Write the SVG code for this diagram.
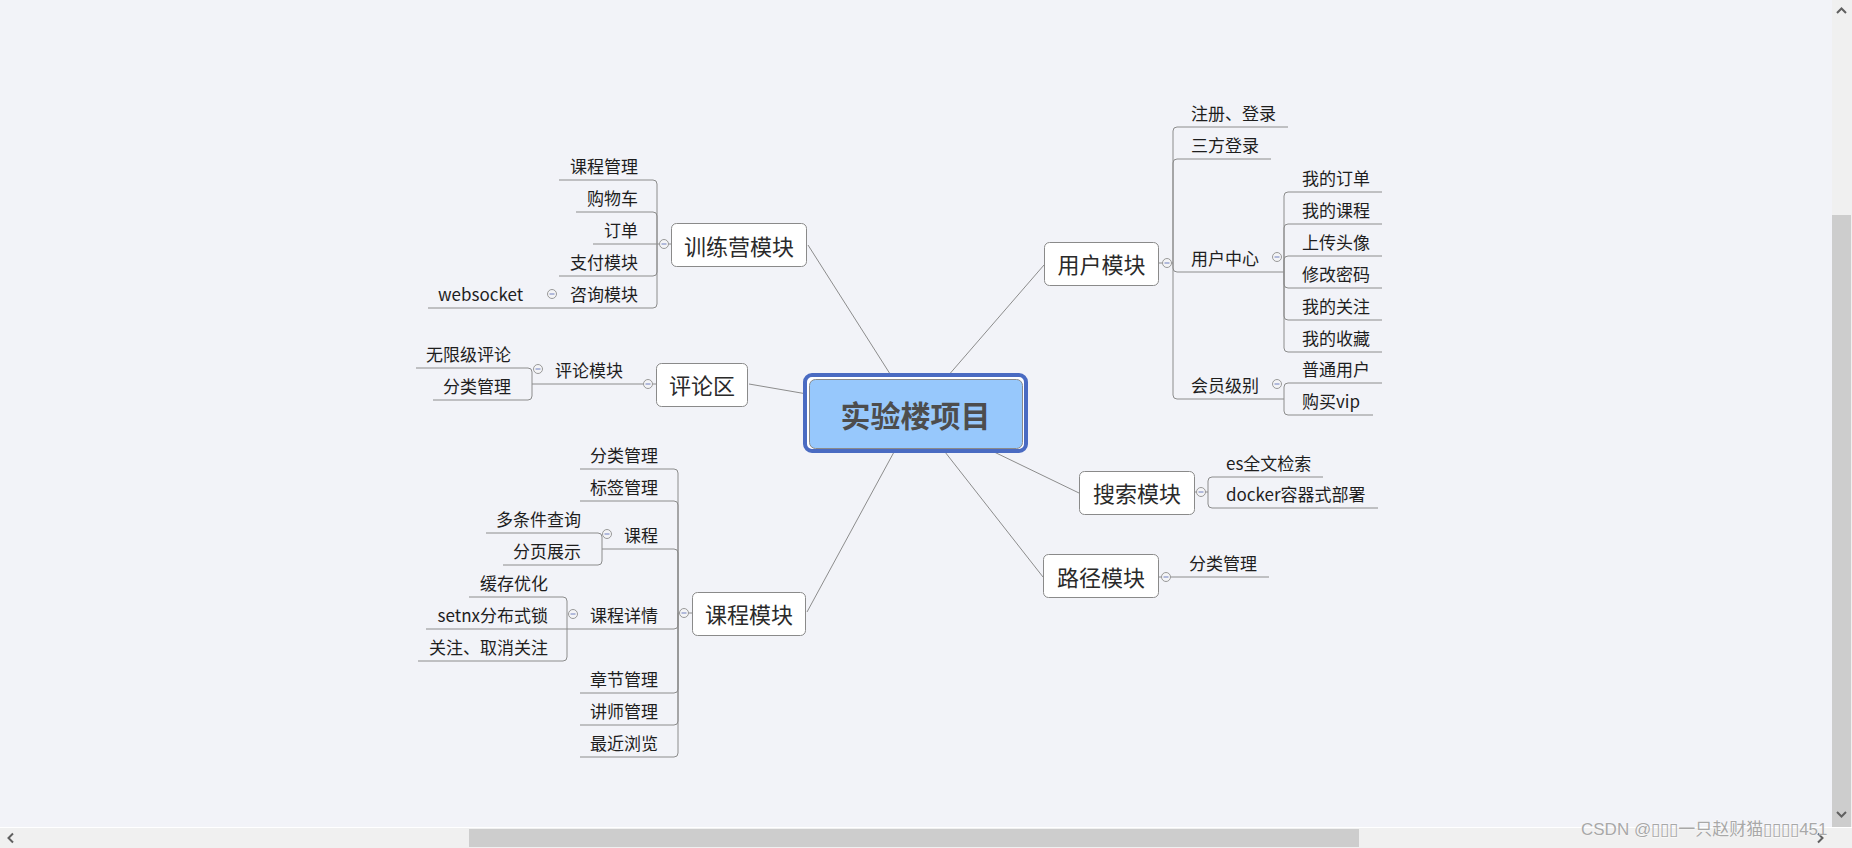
<svg xmlns="http://www.w3.org/2000/svg" width="1852" height="848" viewBox="0 0 1852 848">
<style>
.bg{fill:#f2f3f8}
.c{fill:none;stroke:#8c8c8c;stroke-width:1}
.n{fill:#fff;stroke:#8a8a8a;stroke-width:1}
.t{font-family:"Noto Sans CJK SC","Noto Sans",sans-serif;font-size:17px;fill:#1e1e1e}
.e{text-anchor:end}
.m{font-family:"Noto Sans CJK SC","Noto Sans",sans-serif;font-size:22px;fill:#2a2a2a;text-anchor:middle}
.k circle{fill:#f4f4f6;stroke:#999;stroke-width:1}
.k path{stroke:#7080c0;stroke-width:1;fill:none}
.sb{fill:#f0f0f0}
.th{fill:#cdcdcd}
.ar{fill:none;stroke:#606060;stroke-width:2}
</style>
<rect class="bg" x="0" y="0" width="1852" height="848"/>

<g id="connectors">
  <path class="c" d="M808,245 L892,377"/>
  <path class="c" d="M749,384 L807,394"/>
  <path class="c" d="M807,612 L894,452"/>
  <path class="c" d="M947,377 L1044,265"/>
  <path class="c" d="M990,450 L1079,493"/>
  <path class="c" d="M945,452 L1043,577"/>

  <!-- 训练营模块 -->
  <path class="c" d="M671,244 H657"/>
  <path class="c" d="M657,244 V184 Q657,180 653,180 H559"/>
  <path class="c" d="M657,244 V216 Q657,212 653,212 H576"/>
  <path class="c" d="M657,244 H593"/>
  <path class="c" d="M657,244 V272 Q657,276 653,276 H559"/>
  <path class="c" d="M657,244 V304 Q657,308 653,308 H428"/>

  <!-- 评论区 -->
  <path class="c" d="M656,384 H532"/>
  <path class="c" d="M532,384 V372 Q532,368 528,368 H416"/>
  <path class="c" d="M532,384 V396 Q532,400 528,400 H433"/>

  <!-- 课程模块 -->
  <path class="c" d="M692,613 H678"/>
  <path class="c" d="M678,613 V473 Q678,469 674,469 H580"/>
  <path class="c" d="M678,613 V505 Q678,501 674,501 H580"/>
  <path class="c" d="M678,613 V553 Q678,549 674,549 H602"/>
  <path class="c" d="M602,549 V537 Q602,533 598,533 H486"/>
  <path class="c" d="M602,549 V561 Q602,565 598,565 H503"/>
  <path class="c" d="M678,613 V625 Q678,629 674,629 H567"/>
  <path class="c" d="M567,629 V601 Q567,597 563,597 H469"/>
  <path class="c" d="M567,629 H426"/>
  <path class="c" d="M567,629 V657 Q567,661 563,661 H418"/>
  <path class="c" d="M678,613 V689 Q678,693 674,693 H580"/>
  <path class="c" d="M678,613 V721 Q678,725 674,725 H580"/>
  <path class="c" d="M678,613 V753 Q678,757 674,757 H580"/>

  <!-- 用户模块 -->
  <path class="c" d="M1159,263 H1173"/>
  <path class="c" d="M1173,263 V131 Q1173,127 1177,127 H1288"/>
  <path class="c" d="M1173,263 V163 Q1173,159 1177,159 H1271"/>
  <path class="c" d="M1173,263 V268 Q1173,272 1177,272 H1284"/>
  <path class="c" d="M1284,272 V196 Q1284,192 1288,192 H1382"/>
  <path class="c" d="M1284,272 V228 Q1284,224 1288,224 H1382"/>
  <path class="c" d="M1284,272 V260 Q1284,256 1288,256 H1382"/>
  <path class="c" d="M1284,272 V284 Q1284,288 1288,288 H1382"/>
  <path class="c" d="M1284,272 V316 Q1284,320 1288,320 H1382"/>
  <path class="c" d="M1284,272 V348 Q1284,352 1288,352 H1382"/>
  <path class="c" d="M1173,263 V395 Q1173,399 1177,399 H1284"/>
  <path class="c" d="M1284,399 V387 Q1284,383 1288,383 H1382"/>
  <path class="c" d="M1284,399 V411 Q1284,415 1288,415 H1373"/>

  <!-- 搜索模块 -->
  <path class="c" d="M1195,492 H1208"/>
  <path class="c" d="M1208,492 V481 Q1208,477 1212,477 H1323"/>
  <path class="c" d="M1208,492 V504 Q1208,508 1212,508 H1378"/>

  <!-- 路径模块 -->
  <path class="c" d="M1159,577 H1269"/>
</g>

<g id="root">
  <rect x="805" y="375" width="221" height="76" rx="7" fill="#ffffff" stroke="#4a6bc2" stroke-width="4"/>
  <rect x="809.5" y="379.5" width="213" height="69" rx="6" fill="#97c8fc" stroke="#8a8a8a" stroke-width="1"/>
  <text x="915.5" y="427" font-family="'Noto Sans CJK SC','Noto Sans',sans-serif" font-size="30" font-weight="bold" fill="#4d4d4d" text-anchor="middle">实验楼项目</text>
</g>

<g id="training">
  <rect class="n" x="671.5" y="223.5" width="135" height="43" rx="5"/>
  <text class="m" x="739" y="255">训练营模块</text>
  <text class="t e" x="638" y="173">课程管理</text>
  <text class="t e" x="638" y="205">购物车</text>
  <text class="t e" x="638" y="237">订单</text>
  <text class="t e" x="638" y="269">支付模块</text>
  <text class="t e" x="638" y="301">咨询模块</text>
  <text class="t" x="438" y="301">websocket</text>
</g>

<g id="comment">
  <rect class="n" x="656.5" y="363.5" width="91" height="43" rx="5"/>
  <text class="m" x="702" y="394">评论区</text>
  <text class="t e" x="623" y="377">评论模块</text>
  <text class="t e" x="511" y="361">无限级评论</text>
  <text class="t e" x="511" y="393">分类管理</text>
</g>

<g id="course">
  <rect class="n" x="692.5" y="592.5" width="113" height="43" rx="5"/>
  <text class="m" x="749" y="623">课程模块</text>
  <text class="t e" x="658" y="462">分类管理</text>
  <text class="t e" x="658" y="494">标签管理</text>
  <text class="t e" x="658" y="542">课程</text>
  <text class="t e" x="581" y="526">多条件查询</text>
  <text class="t e" x="581" y="558">分页展示</text>
  <text class="t e" x="658" y="622">课程详情</text>
  <text class="t e" x="548" y="590">缓存优化</text>
  <text class="t e" x="548" y="622">setnx分布式锁</text>
  <text class="t e" x="548" y="654">关注、取消关注</text>
  <text class="t e" x="658" y="686">章节管理</text>
  <text class="t e" x="658" y="718">讲师管理</text>
  <text class="t e" x="658" y="750">最近浏览</text>
</g>

<g id="user">
  <rect class="n" x="1044.5" y="242.5" width="114" height="43" rx="5"/>
  <text class="m" x="1101.5" y="273">用户模块</text>
  <text class="t" x="1191" y="120">注册、登录</text>
  <text class="t" x="1191" y="152">三方登录</text>
  <text class="t" x="1191" y="265">用户中心</text>
  <text class="t" x="1302" y="185">我的订单</text>
  <text class="t" x="1302" y="217">我的课程</text>
  <text class="t" x="1302" y="249">上传头像</text>
  <text class="t" x="1302" y="281">修改密码</text>
  <text class="t" x="1302" y="313">我的关注</text>
  <text class="t" x="1302" y="345">我的收藏</text>
  <text class="t" x="1191" y="392">会员级别</text>
  <text class="t" x="1302" y="376">普通用户</text>
  <text class="t" x="1302" y="408">购买vip</text>
</g>

<g id="search">
  <rect class="n" x="1079.5" y="471.5" width="115" height="43" rx="5"/>
  <text class="m" x="1137" y="502">搜索模块</text>
  <text class="t" x="1226" y="470">es全文检索</text>
  <text class="t" x="1226" y="501">docker容器式部署</text>
</g>

<g id="path">
  <rect class="n" x="1043.5" y="554.5" width="115" height="43" rx="5"/>
  <text class="m" x="1101" y="586">路径模块</text>
  <text class="t" x="1189" y="570">分类管理</text>
</g>

<g id="collapse" class="k">
  <circle cx="664" cy="244" r="4.5"/><path d="M661.5,244 H666.5"/>
  <circle cx="552" cy="294" r="4.5"/><path d="M549.5,294 H554.5"/>
  <circle cx="648" cy="384" r="4.5"/><path d="M645.5,384 H650.5"/>
  <circle cx="538" cy="369" r="4.5"/><path d="M535.5,369 H540.5"/>
  <circle cx="684" cy="613" r="4.5"/><path d="M681.5,613 H686.5"/>
  <circle cx="607" cy="534" r="4.5"/><path d="M604.5,534 H609.5"/>
  <circle cx="573" cy="614" r="4.5"/><path d="M570.5,614 H575.5"/>
  <circle cx="1167" cy="263" r="4.5"/><path d="M1164.5,263 H1169.5"/>
  <circle cx="1277" cy="257" r="4.5"/><path d="M1274.5,257 H1279.5"/>
  <circle cx="1277" cy="384" r="4.5"/><path d="M1274.5,384 H1279.5"/>
  <circle cx="1201" cy="492" r="4.5"/><path d="M1198.5,492 H1203.5"/>
  <circle cx="1166" cy="577" r="4.5"/><path d="M1163.5,577 H1168.5"/>
</g>

<g id="scrollbars">
  <rect class="sb" x="1832" y="0" width="20" height="828"/>
  <rect class="th" x="1832" y="215" width="19" height="612"/>
  <rect fill="#ffffff" x="0" y="827" width="1852" height="1"/>
  <rect class="sb" x="0" y="828" width="1852" height="20"/>
  <rect class="th" x="469" y="829" width="890" height="18"/>
  <polyline class="ar" points="1837,13 1841.5,8.5 1846,13"/>
  <polyline class="ar" points="1837,812 1841.5,816.5 1846,812"/>
  <polyline class="ar" points="13,833.5 8.5,838 13,842.5"/>
  <polyline class="ar" points="1818,833.5 1822.5,838 1818,842.5"/>
</g>

<g id="watermark">
  <text x="1581" y="835" font-family="'Liberation Sans','Noto Sans CJK SC',sans-serif" font-size="17" fill="#a8a8a8" stroke="#ffffff" stroke-width="0.6" paint-order="stroke">CSDN @▯▯▯一只赵财猫▯▯▯▯451</text>
</g>
</svg>
